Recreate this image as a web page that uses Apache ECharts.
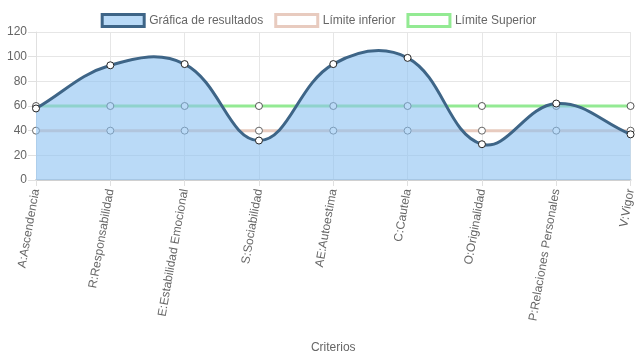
<!DOCTYPE html>
<html><head><meta charset="utf-8">
<script src="https://cdn.jsdelivr.net/npm/echarts@6/dist/echarts.min.js"></script>
<style>html,body{margin:0;padding:0;background:#fff}#c{width:637px;height:359px}</style>
</head><body><div id="c"></div>
<script>
var categories = ["A:Ascendencia","R:Responsabilidad","E:Estabilidad Emocional","S:Sociabilidad","AE:Autoestima","C:Cautela","O:Originalidad","P:Relaciones Personales","V:Vigor"];
var resultados = [58, 93, 94, 32, 94, 99, 29, 62, 37];
var limiteInferior = [40, 40, 40, 40, 40, 40, 40, 40, 40];
var limiteSuperior = [60, 60, 60, 60, 60, 60, 60, 60, 60];
var yTicks = {min: 0, max: 120, interval: 20};

var font = "Liberation Sans, Arial, Helvetica, sans-serif";
var TENSION = 0.4;

// Chart.js-style spline through pixel points obtained from the axes
function splinePath(pts) {
  var d = 'M' + pts[0][0] + ' ' + pts[0][1];
  var cps = pts.map(function (p, i) {
    var prev = pts[i - 1] || p, next = pts[i + 1] || p;
    var d01 = Math.hypot(p[0] - prev[0], p[1] - prev[1]);
    var d12 = Math.hypot(next[0] - p[0], next[1] - p[1]);
    var s01 = d01 / (d01 + d12 || 1), s12 = d12 / (d01 + d12 || 1);
    var fa = TENSION * s01, fb = TENSION * s12;
    return {
      prev: [p[0] - fa * (next[0] - prev[0]), p[1] - fa * (next[1] - prev[1])],
      next: [p[0] + fb * (next[0] - prev[0]), p[1] + fb * (next[1] - prev[1])]
    };
  });
  for (var i = 1; i < pts.length; i++) {
    var c1 = cps[i - 1].next, c2 = cps[i].prev;
    d += ' C' + c1[0] + ' ' + c1[1] + ' ' + c2[0] + ' ' + c2[1] + ' ' + pts[i][0] + ' ' + pts[i][1];
  }
  return d;
}

var chart = echarts.init(document.getElementById('c'));
chart.setOption({
  animation: false,
  textStyle: {fontFamily: font},
  legend: {
    top: 8, left: 'center', itemWidth: 42, itemHeight: 12, itemGap: 11,
    textStyle: {color: '#666', fontSize: 12, fontFamily: font},
    data: [
      {name: 'Gráfica de resultados', icon: 'rect', itemStyle: {color: '#b9daf7', borderColor: '#3e6587', borderWidth: 3}},
      {name: 'Límite inferior', icon: 'rect', itemStyle: {color: '#fff', borderColor: '#e8cbbf', borderWidth: 3}},
      {name: 'Límite Superior', icon: 'rect', itemStyle: {color: '#fff', borderColor: '#93ea93', borderWidth: 3}}
    ]
  },
  grid: {left: 36, right: 3, top: 32, bottom: 179, containLabel: false},
  xAxis: {
    type: 'category', data: categories, boundaryGap: false,
    name: 'Criterios', nameLocation: 'middle', nameGap: 162,
    nameTextStyle: {color: '#666', fontSize: 12, fontFamily: font},
    axisLine: {show: true, lineStyle: {color: '#d0d0d0', width: 2}},
    axisTick: {show: true, alignWithLabel: true, length: 6, lineStyle: {color: '#e0e0e0'}},
    splitLine: {show: true, lineStyle: {color: '#e6e6e6'}},
    axisLabel: {rotate: 80, color: '#666', fontSize: 12, interval: 0, margin: 9, fontFamily: font}
  },
  yAxis: {
    type: 'value', min: yTicks.min, max: yTicks.max, interval: yTicks.interval,
    axisLine: {show: true, lineStyle: {color: '#e0e0e0'}},
    axisTick: {show: true, length: 8, lineStyle: {color: '#e0e0e0'}},
    splitLine: {show: true, lineStyle: {color: '#e6e6e6'}},
    axisLabel: {color: '#666', fontSize: 12, margin: 9, fontFamily: font}
  },
  series: [
    {
      name: 'Límite inferior', type: 'line', data: limiteInferior, z: 2,
      symbol: 'circle', symbolSize: 7, showSymbol: true,
      lineStyle: {color: '#e8cbbf', width: 3},
      itemStyle: {color: '#fff', borderColor: '#666', borderWidth: 1}
    },
    {
      name: 'Límite Superior', type: 'line', data: limiteSuperior, z: 2,
      symbol: 'circle', symbolSize: 7, showSymbol: true,
      lineStyle: {color: '#93ea93', width: 3},
      itemStyle: {color: '#fff', borderColor: '#555', borderWidth: 1}
    },
    {
      name: 'Gráfica de resultados', type: 'custom', z: 3,
      data: resultados.map(function (v, i) { return [i, v]; }),
      encode: {x: 0, y: 1},
      renderItem: function (params, api) {
        if (params.dataIndex !== 0) return null;
        var pts = resultados.map(function (v, i) { return api.coord([i, v]); });
        var base0 = api.coord([0, 0]), baseN = api.coord([resultados.length - 1, 0]);
        var line = splinePath(pts);
        var area = line + ' L' + baseN[0] + ' ' + baseN[1] + ' L' + base0[0] + ' ' + base0[1] + ' Z';
        return {
          type: 'group',
          children: [
            {type: 'path', shape: {pathData: area}, style: {fill: 'rgba(140,193,242,0.6)', stroke: null}},
            {type: 'path', shape: {pathData: line}, style: {fill: null, stroke: '#3e6587', lineWidth: 3}}
          ]
        };
      }
    },
    {
      name: 'Gráfica de resultados', type: 'line', data: resultados, z: 4,
      symbol: 'circle', symbolSize: 7, showSymbol: true,
      lineStyle: {width: 0, opacity: 0},
      itemStyle: {color: '#fff', borderColor: '#222', borderWidth: 1}
    }
  ]
});
</script></body></html>
